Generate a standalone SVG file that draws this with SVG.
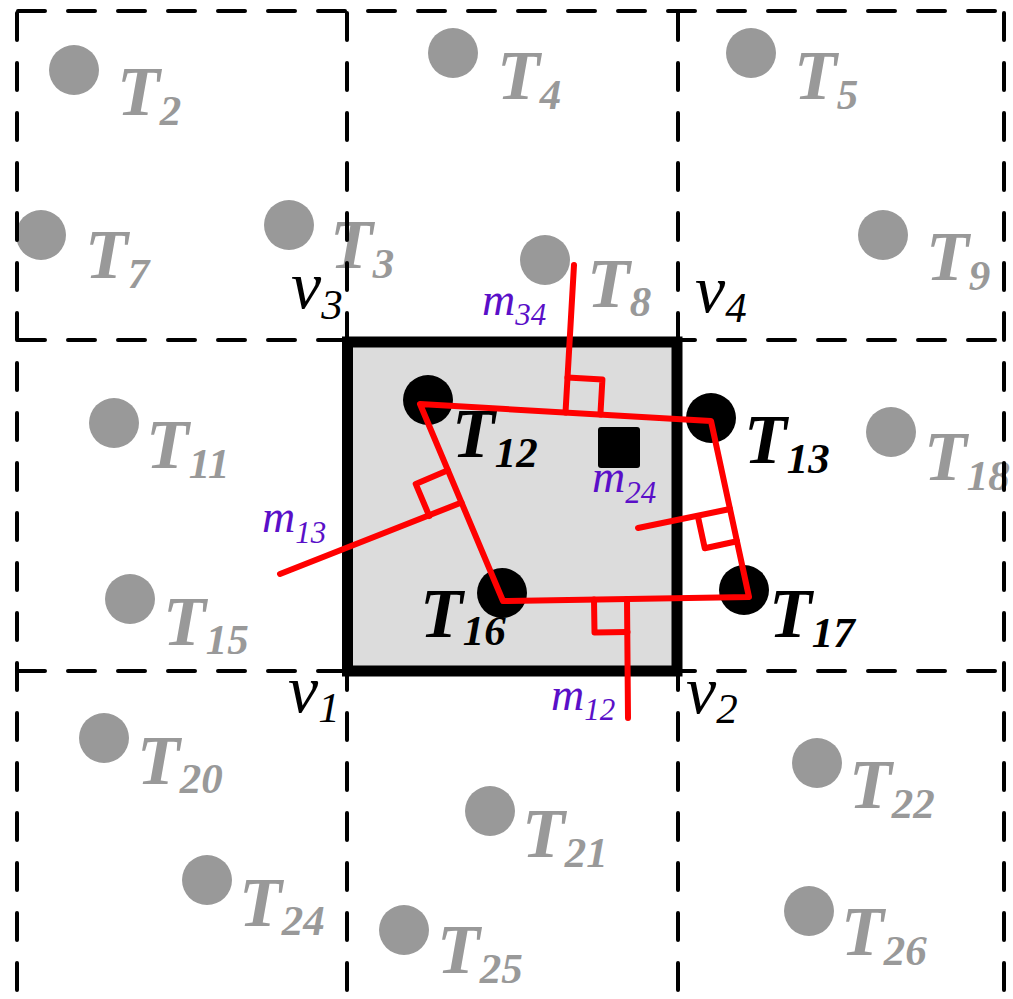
<svg xmlns="http://www.w3.org/2000/svg" width="1013" height="999" viewBox="0 0 1013 999">
<style>
.gc{fill:#999999}
.bc{fill:#000000}
.gt{font-family:"Liberation Serif","Times New Roman",serif;font-style:italic;font-weight:bold;font-size:70px;fill:#999999}
.bt{font-family:"Liberation Serif","Times New Roman",serif;font-style:italic;font-weight:bold;font-size:70px;fill:#000000}
.sub{font-size:43px}
.vt{font-family:"Liberation Serif","Times New Roman",serif;font-style:italic;font-size:68px;fill:#000000}
.mt{font-family:"Liberation Serif","Times New Roman",serif;font-style:italic;font-size:46px;fill:#5a0fc8}
.msub{font-size:31px}
.grid{stroke:#000;stroke-width:4;stroke-dasharray:27 23;stroke-linecap:round;fill:none}
.red{stroke:#ff0000;stroke-width:6;stroke-linecap:round;stroke-linejoin:round;fill:none}
</style>
<rect width="1013" height="999" fill="#ffffff"/>
<g id="gray-nodes">
<g id="T2"><circle class="gc" cx="74" cy="70" r="25"/><text class="gt" x="117" y="115">T<tspan class="sub" dy="10">2</tspan></text></g>
<g id="T7"><circle class="gc" cx="41" cy="235" r="25"/><text class="gt" x="85" y="278">T<tspan class="sub" dy="10">7</tspan></text></g>
<g id="T3"><circle class="gc" cx="289" cy="225" r="25"/><text class="gt" x="330" y="268">T<tspan class="sub" dy="10">3</tspan></text></g>
<g id="T4"><circle class="gc" cx="453" cy="53" r="25"/><text class="gt" x="497" y="99">T<tspan class="sub" dy="10">4</tspan></text></g>
<g id="T5"><circle class="gc" cx="751" cy="53" r="25"/><text class="gt" x="794" y="99">T<tspan class="sub" dy="10">5</tspan></text></g>
<g id="T8"><circle class="gc" cx="545" cy="260" r="25"/><text class="gt" x="587" y="307">T<tspan class="sub" dy="9">8</tspan></text></g>
<g id="T9"><circle class="gc" cx="883" cy="235" r="25"/><text class="gt" x="926" y="280">T<tspan class="sub" dy="10">9</tspan></text></g>
<g id="T11"><circle class="gc" cx="114" cy="423" r="25"/><text class="gt" x="146" y="468">T<tspan class="sub" dy="10">11</tspan></text></g>
<g id="T15"><circle class="gc" cx="130" cy="599" r="25"/><text class="gt" x="163" y="645">T<tspan class="sub" dy="9">15</tspan></text></g>
<g id="T18"><circle class="gc" cx="891" cy="432" r="25"/><text class="gt" x="924" y="480">T<tspan class="sub" dy="10">18</tspan></text></g>
<g id="T20"><circle class="gc" cx="104" cy="738" r="25"/><text class="gt" x="137" y="784">T<tspan class="sub" dy="9">20</tspan></text></g>
<g id="T24"><circle class="gc" cx="207" cy="880" r="25"/><text class="gt" x="239" y="926">T<tspan class="sub" dy="9">24</tspan></text></g>
<g id="T21"><circle class="gc" cx="490" cy="811" r="25"/><text class="gt" x="522" y="857">T<tspan class="sub" dy="10">21</tspan></text></g>
<g id="T25"><circle class="gc" cx="404" cy="930" r="25"/><text class="gt" x="437" y="973">T<tspan class="sub" dy="10">25</tspan></text></g>
<g id="T22"><circle class="gc" cx="817" cy="763" r="25"/><text class="gt" x="849" y="808">T<tspan class="sub" dy="10">22</tspan></text></g>
<g id="T26"><circle class="gc" cx="809" cy="911" r="25"/><text class="gt" x="841" y="955">T<tspan class="sub" dy="10">26</tspan></text></g>
</g>
<g id="grid">
<line class="grid" x1="17" y1="13" x2="17" y2="999"/>
<line class="grid" x1="347" y1="13" x2="347" y2="999"/>
<line class="grid" x1="678" y1="13" x2="678" y2="999"/>
<line class="grid" x1="1004" y1="13" x2="1004" y2="999"/>
<line class="grid" x1="18" y1="11" x2="1004" y2="11"/>
<line class="grid" x1="18" y1="340" x2="1004" y2="340"/>
<line class="grid" x1="18" y1="671" x2="1004" y2="671"/>
</g>
<g id="cell">
<rect x="347.5" y="342" width="329.5" height="329" fill="#dcdcdc" stroke="#000" stroke-width="11"/>
</g>
<g id="black-nodes">
<g id="T12"><circle class="bc" cx="428" cy="400" r="25"/><text class="bt" x="452" y="457">T<tspan class="sub" dy="10">12</tspan></text></g>
<g id="T13"><circle class="bc" cx="711" cy="418" r="25"/><text class="bt" x="744" y="463">T<tspan class="sub" dy="10">13</tspan></text></g>
<g id="T16"><circle class="bc" cx="502" cy="593" r="25"/><text class="bt" x="420" y="637">T<tspan class="sub" dy="8">16</tspan></text></g>
<g id="T17"><circle class="bc" cx="744" cy="590" r="25"/><text class="bt" x="769" y="637">T<tspan class="sub" dy="10">17</tspan></text></g>
</g>
<g id="connectors">
<polygon class="red" stroke-width="7" points="420,404 711,421 749,597 503,601"/>
<line class="red" x1="565.5" y1="412.5" x2="574" y2="265"/>
<polyline class="red" stroke-width="5" points="567.5,377.6 602.4,379.6 600.4,414.5"/>
<line class="red" x1="627" y1="599" x2="628" y2="718"/>
<polyline class="red" stroke-width="5" points="594,599.5 594.5,632.5 627.5,632"/>
<line class="red" x1="461.5" y1="502.5" x2="280" y2="574"/>
<polyline class="red" stroke-width="5" points="447.9,470.3 415.7,483.9 429.3,516.1"/>
<line class="red" x1="730" y1="509" x2="638" y2="528"/>
<polyline class="red" stroke-width="5" points="697.8,516 704.8,548.3 737,541.2"/>
</g>
<g id="m24-point">
<rect x="598" y="427" width="42" height="41" rx="3" fill="#000"/>
</g>
<g id="vertex-labels">
<text class="vt" x="291" y="308">v<tspan class="sub" dy="11">3</tspan></text>
<text class="vt" x="695" y="312">v<tspan class="sub" dy="10">4</tspan></text>
<text class="vt" x="288" y="712">v<tspan class="sub" dy="10">1</tspan></text>
<text class="vt" x="686" y="713">v<tspan class="sub" dy="10">2</tspan></text>
</g>
<g id="bisector-labels">
<text class="mt" x="482" y="315">m<tspan class="msub" dy="10">34</tspan></text>
<text class="mt" x="592" y="492">m<tspan class="msub" dy="11">24</tspan></text>
<text class="mt" x="262" y="532">m<tspan class="msub" dy="11">13</tspan></text>
<text class="mt" x="551" y="710">m<tspan class="msub" dy="10">12</tspan></text>
</g>
</svg>
